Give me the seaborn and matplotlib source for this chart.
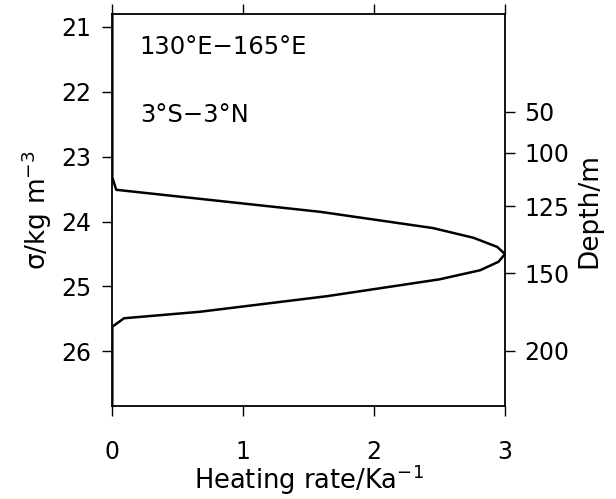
import matplotlib
matplotlib.use("Agg")
import numpy as np
import pandas as pd
import seaborn as sns
from matplotlib import pyplot as plt

# heating rate profile against sigma
sigma = [20.8, 23.32, 23.51, 23.85, 24.10, 24.25, 24.39, 24.50,
         24.62, 24.75, 24.89, 25.15, 25.39, 25.49, 25.62, 26.85]
heating = [0.0, 0.0, 0.03, 1.59, 2.45, 2.76, 2.94, 3.0,
           2.95, 2.81, 2.50, 1.64, 0.67, 0.09, 0.0, 0.0]

sigma_ticks = [21, 22, 23, 24, 25, 26]
heat_ticks = [0, 1, 2, 3]

# depth axis on the right: depth labels and the sigma level they sit at
depth_labels = [50, 100, 125, 150, 200]
depth_sigma = [22.31, 22.94, 23.76, 24.80, 25.99]

sns.set_style("ticks")
plt.rcParams["font.family"] = ["DejaVu Sans"]
plt.rcParams["mathtext.default"] = "regular"
plt.rcParams["text.color"] = "black"
plt.rcParams["axes.labelcolor"] = "black"

df = pd.DataFrame({"heating": heating, "sigma": sigma})

fig = plt.figure(figsize=(6.16, 4.99), dpi=100)
ax = fig.add_axes([0.1823, 0.1854, 0.6375, 0.7866])

sns.lineplot(data=df, x="heating", y="sigma", sort=False, estimator=None,
             color="black", linewidth=1.8, ax=ax)

ax.set_xlim(0, 3)
ax.set_ylim(26.85, 20.8)
ax.set_xticks(heat_ticks)
ax.set_yticks(sigma_ticks)
ax.tick_params(direction="out", length=7, width=1, labelsize=17, colors="black",
               top=True, pad=8)
ax.tick_params(axis="x", pad=17)
for s in ax.spines.values():
    s.set_visible(True)
    s.set_linewidth(1.3)
    s.set_color("black")

ax.set_xlabel("Heating rate/Ka$^{-1}$", fontsize=18.5, labelpad=-1)
ax.set_ylabel("σ/kg m$^{-3}$", fontsize=19, labelpad=5)

ax2 = ax.twinx()
ax2.set_ylim(ax.get_ylim())
ax2.set_yticks(depth_sigma)
ax2.set_yticklabels([str(d) for d in depth_labels])
ax2.tick_params(direction="out", length=7, width=1, labelsize=17, colors="black", pad=7)
ax2.set_ylabel("Depth/m", fontsize=19, labelpad=5)
for s in ax2.spines.values():
    s.set_visible(False)

ax.text(0.21, 21.31, "130°E−165°E", fontsize=17.5, va="center", ha="left")
ax.text(0.21, 22.35, "3°S−3°N", fontsize=17.5, va="center", ha="left")

fig.savefig("out.png", dpi=100)
